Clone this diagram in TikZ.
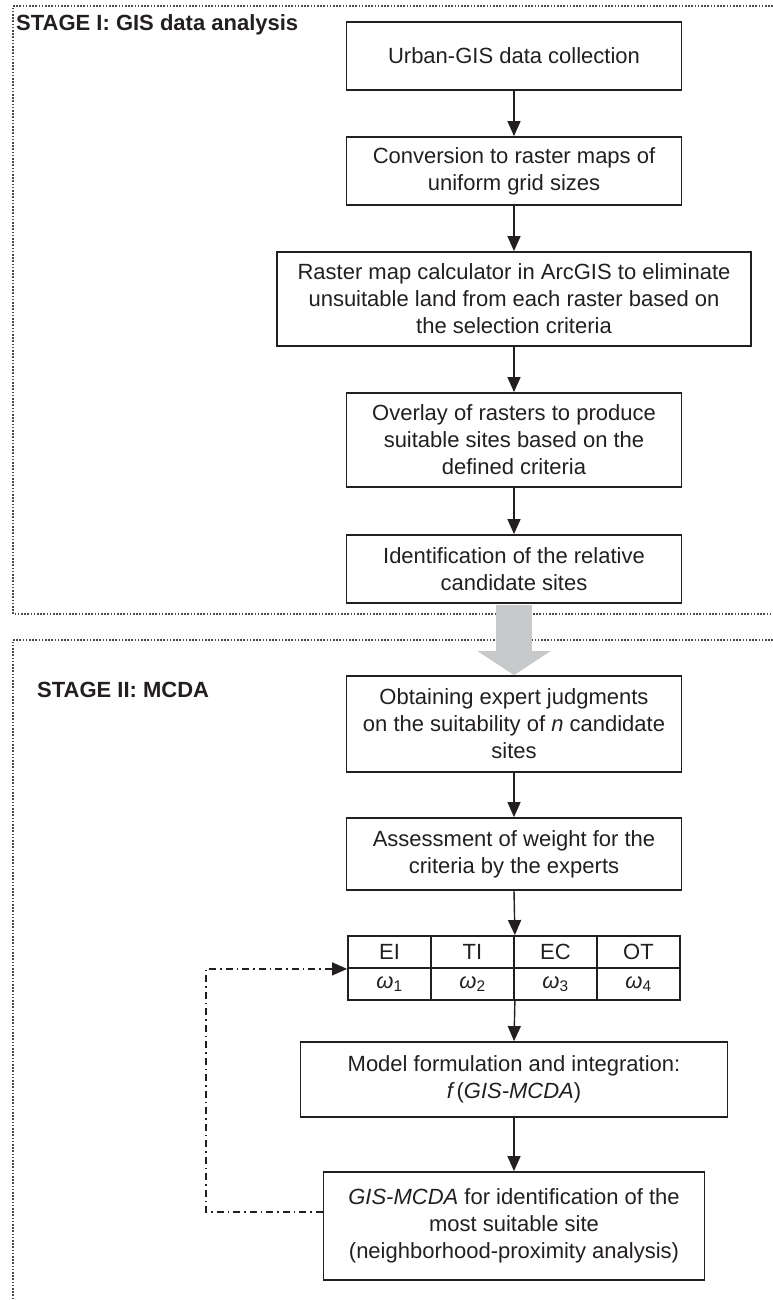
\documentclass[tikz,border=0pt]{standalone}
\usepackage{fontspec}
\setmainfont{Liberation Sans}
\usetikzlibrary{arrows.meta}
\definecolor{ink}{HTML}{231F20}
\definecolor{fatgray}{HTML}{C8C9CB}
\definecolor{framecol}{HTML}{4A4A4A}
\begin{document}
\begin{tikzpicture}[x=1pt,y=-1pt,
  box/.style={draw=ink, line width=1.8pt, align=center, inner sep=0pt, text=ink,
    font=\fontsize{22}{27}\selectfont},
  cell/.style={draw=ink, line width=1.8pt, inner sep=0pt, text=ink,
    minimum width=83pt, minimum height=32pt, font=\fontsize{22}{25}\selectfont},
  flow/.style={draw=ink, line width=1.4pt, -{Triangle[length=15pt,width=13pt]}},
  fbline/.style={draw=ink, line width=1.3pt, dash pattern=on 7pt off 4pt on 1.5pt off 4pt,
    -{Triangle[length=15pt,width=13pt]}},
  framestyle/.style={draw=framecol, line width=1.6pt, dash pattern=on 1.6pt off 1.6pt},
  stagelabel/.style={anchor=west, inner sep=0pt, text=ink, font=\bfseries\fontsize{22}{25}\selectfont}
]
\useasboundingbox (0,0) rectangle (773,1300);

% frames
\draw[framestyle] (773,6) -- (13,6) -- (13,614) -- (773,614);
\draw[framestyle] (773,640) -- (13,640) -- (13,1300);

\node[stagelabel] (s1) at (16,25) {STAGE I: GIS data analysis};
\node[stagelabel] (s2) at (37,690) {STAGE II: MCDA};

% stage I boxes
\node[box, minimum width=335pt, minimum height=68pt] (b1) at (514,56) {Urban-GIS data collection};
\node[box, minimum width=335pt, minimum height=68pt] (b2) at (514,171) {Conversion to raster maps of\\uniform grid sizes};
\node[box, minimum width=474pt, minimum height=94pt] (b3) at (514,299) {Raster map calculator in ArcGIS to eliminate\\unsuitable land from each raster based on\\the selection criteria};
\node[box, minimum width=335pt, minimum height=94pt] (b4) at (514,440) {Overlay of rasters to produce\\suitable sites based on the\\defined criteria};
\node[box, minimum width=335pt, minimum height=68pt] (b5) at (514,569) {Identification of the relative\\candidate sites};

% stage II boxes
\node[box, minimum width=335pt, minimum height=96pt] (b6) at (514,724) {Obtaining expert judgments\\on the suitability of \textit{n} candidate\\sites};
\node[box, minimum width=335pt, minimum height=72pt] (b7) at (514,854) {Assessment of weight for the\\criteria by the experts};

\node[cell] (e1) at (389.5,952) {EI};
\node[cell] (e2) at (472.5,952) {TI};
\node[cell] (e3) at (555.5,952) {EC};
\node[cell] (e4) at (638.5,952) {OT};
\node[cell] (w1) at (389.5,984) {\textit{ω}\textsubscript{1}};
\node[cell] (w2) at (472.5,984) {\textit{ω}\textsubscript{2}};
\node[cell] (w3) at (555.5,984) {\textit{ω}\textsubscript{3}};
\node[cell] (w4) at (638.5,984) {\textit{ω}\textsubscript{4}};

\node[box, minimum width=427pt, minimum height=75pt] (b8) at (514,1079.5) {Model formulation and integration:\\\textit{f\,}(\textit{GIS-MCDA})};
\node[box, minimum width=381pt, minimum height=108pt] (b9) at (514,1226) {\textit{GIS-MCDA} for identification of the\\most suitable site\\(neighborhood-proximity analysis)};

% connectors
\draw[flow] (b1) -- (b2);
\draw[flow] (b2) -- (b3);
\draw[flow] (b3) -- (b4);
\draw[flow] (b4) -- (b5);
\draw[fatgray, line width=36pt, -{Triangle[length=24pt,width=72pt]}] ([yshift=-0.9pt]b5.south) -- (b6.north);
\draw[flow] (b6) -- (b7);
\draw[flow] (b7.south) -- (e2.north east);
\draw[flow] (w2.south east) -- (b8.north);
\draw[flow] (b8) -- (b9);

\coordinate (b9w) at ([yshift=14pt]b9.west);
\coordinate (fbx) at (206,0);
\draw[fbline] (b9w) -- (fbx |- b9w) -- (fbx |- e1.south west) -- (e1.south west);
\end{tikzpicture}
\end{document}
